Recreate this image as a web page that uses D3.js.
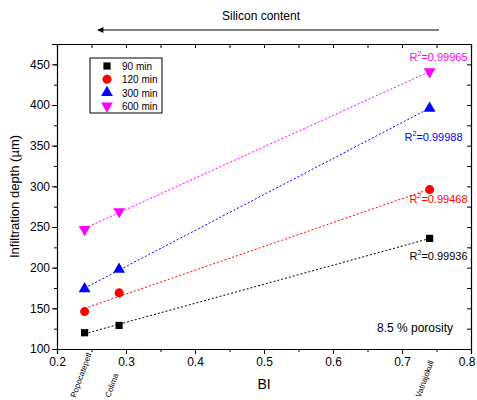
<!DOCTYPE html>
<html>
<head>
<meta charset="utf-8">
<script src="https://cdn.jsdelivr.net/npm/d3@7"></script>
<style>
  body { margin: 0; background: #fff; }
  text { font-family: "Liberation Sans", Arial, sans-serif; }
</style>
</head>
<body>
<div id="chart"></div>
<script>
// volcano samples and their basicity index
var samples = ["Popocatepetl", "Colima", "Vatnajökull"];
var bi = [0.24, 0.29, 0.74];

var seriesNames = ["90 min", "120 min", "300 min", "600 min"];
var seriesColors = ["#000000", "#ff0000", "#0000ff", "#ff00ff"];
var seriesSymbols = ["square", "circle", "triangleUp", "triangleDown"];
var depth90 = [120, 129, 236];
var depth120 = [146, 169, 296];
var depth300 = [174, 198, 396];
var depth600 = [247, 269, 441];
var rSquared = ["0.99936", "0.99468", "0.99988", "0.99965"];

var xTicks = [0.2, 0.3, 0.4, 0.5, 0.6, 0.7, 0.8];
var yTicks = [100, 150, 200, 250, 300, 350, 400, 450];

var allDepth = [depth90, depth120, depth300, depth600];

var W = 477, H = 400;
var margin = {top: 44, right: 6, bottom: 51, left: 57};
var width = W - margin.left - margin.right,
    height = H - margin.top - margin.bottom;

var svg = d3.select("#chart").append("svg")
  .attr("width", W).attr("height", H);

var g = svg.append("g")
  .attr("transform", "translate(" + margin.left + "," + margin.top + ")");

var x = d3.scaleLinear().domain([0.2, 0.8]).range([0, width]);
var y = d3.scaleLinear().domain([100, 475]).range([height, 0]);

var minorX = d3.range(0.2, 0.8001, 0.05);
var minorY = d3.range(100, 475, 25);

// bottom axis
var bottom = g.append("g")
  .attr("transform", "translate(0," + height + ")");
bottom.call(d3.axisBottom(x).tickValues(xTicks).tickSize(5).tickPadding(3)
  .tickFormat(function(d){ return d3.format(".1f")(d); }));
// last label sits against the window edge, pull it in a bit
bottom.selectAll(".tick text").filter(function(d){ return d == 0.8; })
  .attr("text-anchor", "end").attr("dx", 4);
bottom.append("g").call(d3.axisBottom(x).tickValues(minorX).tickSize(3).tickFormat(""))
  .select(".domain").remove();

// left axis
var left = g.append("g");
left.call(d3.axisLeft(y).tickValues(yTicks).tickSize(5).tickPadding(2));
left.append("g").call(d3.axisLeft(y).tickValues(minorY).tickSize(3).tickFormat(""))
  .select(".domain").remove();

// top and right mirror ticks, pointing in
g.append("g").call(d3.axisTop(x).tickValues(minorX).tickSize(-4).tickFormat(""));
g.append("g").attr("transform", "translate(" + width + ",0)")
  .call(d3.axisRight(y).tickValues(minorY).tickSize(-4).tickFormat(""));

g.selectAll(".domain").attr("stroke", "#000").attr("stroke-width", 1.2);
g.selectAll(".tick line").attr("stroke", "#000");
g.selectAll(".tick text").attr("font-size", 12).attr("fill", "#000");

// rotated sample labels under the axis
g.selectAll(".sample")
  .data(samples)
  .enter()
  .append("text")
  .attr("class", "sample")
  .attr("transform", function(d, i){
    return "translate(" + (x(bi[i]) - 9) + "," + (height + 49) + ") rotate(-70)";
  })
  .attr("font-size", 8)
  .text(function(d){ return d; });

// axis titles
svg.append("text")
  .attr("x", margin.left + width / 2).attr("y", 389)
  .attr("text-anchor", "middle").attr("font-size", 14)
  .text("BI");
svg.append("text")
  .attr("transform", "translate(19," + (margin.top + height / 2) + ") rotate(-90)")
  .attr("text-anchor", "middle").attr("font-size", 13)
  .text("Infiltration depth (µm)");

// silicon arrow
svg.append("defs").append("marker")
  .attr("id", "arr").attr("viewBox", "0 0 10 10")
  .attr("refX", 9).attr("refY", 5)
  .attr("markerWidth", 9).attr("markerHeight", 6)
  .attr("markerUnits", "userSpaceOnUse")
  .attr("orient", "auto")
  .append("path").attr("d", "M10,5L0,0L0,10Z").attr("fill", "#000");
svg.append("line")
  .attr("x1", 439).attr("x2", 98).attr("y1", 30).attr("y2", 30)
  .attr("stroke", "#000").attr("stroke-width", 1)
  .attr("marker-end", "url(#arr)");
svg.append("text")
  .attr("x", 261).attr("y", 20).attr("text-anchor", "middle")
  .attr("font-size", 12).text("Silicon content");

// linear fit for each series
function fit(xs, ys){
  var mx = d3.mean(xs), my = d3.mean(ys);
  var sxy = 0, sxx = 0;
  for (var i = 0; i < xs.length; i++){
    sxy += (xs[i] - mx) * (ys[i] - my);
    sxx += (xs[i] - mx) * (xs[i] - mx);
  }
  var b = sxy / sxx;
  return {b: b, a: my - b * mx};
}

var symbolType = {
  square: d3.symbolSquare,
  circle: d3.symbolCircle,
  triangleUp: d3.symbolTriangle,
  triangleDown: d3.symbolTriangle
};
var symbolSize = {square: 52, circle: 64, triangleUp: 60, triangleDown: 60};

function drawSymbol(sel, kind, color){
  sel.append("path")
    .attr("d", d3.symbol().type(symbolType[kind]).size(symbolSize[kind]))
    .attr("transform", kind == "triangleDown" ? "rotate(180)" : null)
    .attr("fill", color);
}

for (var s = 0; s < allDepth.length; s++){
  var vals = allDepth[s];
  var f = fit(bi, vals);
  var x0 = d3.min(bi), x1 = d3.max(bi);
  g.append("line")
    .attr("x1", x(x0)).attr("y1", y(f.a + f.b * x0))
    .attr("x2", x(x1)).attr("y2", y(f.a + f.b * x1))
    .attr("stroke", seriesColors[s])
    .attr("stroke-width", 1)
    .attr("stroke-dasharray", "2,2");

  for (var i = 0; i < vals.length; i++){
    var p = g.append("g")
      .attr("transform", "translate(" + x(bi[i]) + "," + y(vals[i]) + ")");
    drawSymbol(p, seriesSymbols[s], seriesColors[s]);
  }
}

// R² labels near the last point of each series
for (var s = 0; s < allDepth.length; s++){
  var last = allDepth[s][allDepth[s].length - 1];
  var t = g.append("text")
    .attr("x", s == 2 ? x(0.74) + 33 : x(0.74) + 38)
    .attr("y", y(last) + [22, 13, 33, -11][s])
    .attr("text-anchor", "end")
    .attr("font-size", 11)
    .attr("fill", seriesColors[s]);
  t.append("tspan").text("R");
  t.append("tspan").attr("font-size", 7).attr("dy", -5).text("2");
  t.append("tspan").attr("dy", 5).text("=" + rSquared[s]);
}

// legend
var legend = svg.append("g").attr("transform", "translate(90,58)");
legend.append("rect")
  .attr("width", 72).attr("height", 55)
  .attr("fill", "#fff").attr("stroke", "#000").attr("stroke-width", 1);
seriesNames.forEach(function(name, i){
  var row = legend.append("g").attr("transform", "translate(17," + (8 + i * 13.3) + ")");
  drawSymbol(row, seriesSymbols[i], seriesColors[i]);
  row.append("text").attr("x", 15).attr("y", 4)
    .attr("font-size", 10).text(name);
});

// porosity note
svg.append("text")
  .attr("x", 453).attr("y", 332).attr("text-anchor", "end")
  .attr("font-size", 12).text("8.5 % porosity");
</script>
</body>
</html>
